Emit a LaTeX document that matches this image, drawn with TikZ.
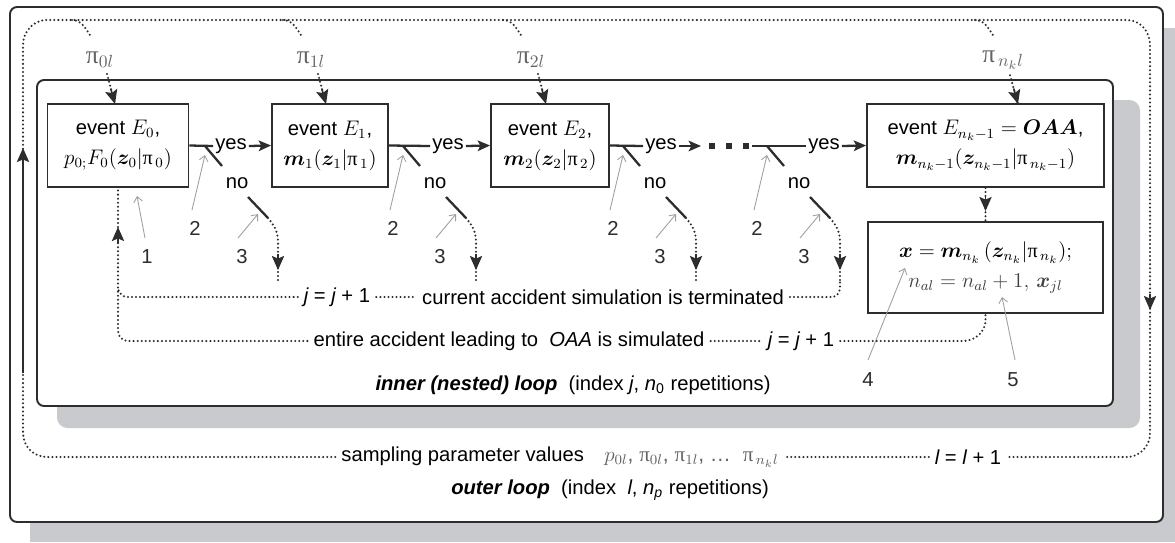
\documentclass[tikz,border=0pt]{standalone}
\usepackage{amsmath}
\usepackage{bm}
\usepackage[no-math]{fontspec}
\setmainfont{Liberation Sans}
\newfontfamily\pifont{Liberation Serif}
\newcommand{\uppi}{\mathord{\text{\pifont π}}}
\usetikzlibrary{arrows.meta}
\definecolor{LoopShade}{RGB}{200,202,205}
\definecolor{LoopLine}{RGB}{45,45,45}
\definecolor{PtrGray}{RGB}{160,160,160}
\definecolor{MathGray}{RGB}{100,100,100}

\begin{document}
\begin{tikzpicture}[x=0.02cm, y=-0.02cm,
    font=\fontsize{11.5}{14}\selectfont,
    frame/.style={draw=LoopLine, line width=1.1pt, fill=white, rounded corners=4pt},
    shade/.style={fill=LoopShade, rounded corners=6pt},
    evbox/.style={draw=LoopLine, line width=1.1pt, fill=white, align=center,
                  inner sep=2pt, font=\fontsize{11.5}{17}\selectfont},
    dotline/.style={draw=LoopLine, line width=1.3pt, line cap=round, dash pattern=on 0pt off 2.3pt},
    yesline/.style={draw=LoopLine, line width=1.3pt},
    arr/.style={-{Stealth[length=7pt,width=6pt,inset=1.5pt]}},
    tip/.style={draw=LoopLine, fill=LoopLine, line width=0.9pt,
                -{Stealth[length=8pt,width=7pt,inset=1.5pt]}},
    ptr/.style={draw=PtrGray, line width=0.5pt, -{Straight Barb[length=3pt,width=5pt]}},
    numlbl/.style={text=LoopLine},
    pilbl/.style={text=MathGray, font=\fontsize{14.5}{16}\selectfont}
  ]
  \useasboundingbox (0,0) rectangle (1175,542);
  \fill[white] (0,0) rectangle (1175,542);

  % outer and inner loop frames
  \fill[LoopShade] (30,28) rectangle (1175,542);
  \draw[frame] (10,7) rectangle (1163,522);
  \fill[shade] (57,100) rectangle (1140,428);
  \draw[frame] (37,80) rectangle (1113,406);

  % events
  \node[evbox, minimum width=2.82cm, minimum height=1.66cm] (e0) at (118,145.5)
       {event $E_0$,\\$p_{0;}F_0(\bm{z}_0|\uppi_{\,0})$};
  \node[evbox, minimum width=2.32cm, minimum height=1.66cm] (e1) at (330,145.5)
       {event $E_1$,\\$\bm{m}_1(\bm{z}_1|\uppi_{\,1})$};
  \node[evbox, minimum width=2.36cm, minimum height=1.66cm] (e2) at (550,145.5)
       {event $E_2$,\\$\bm{m}_2(\bm{z}_2|\uppi_{\,2})$};
  \node[evbox, minimum width=4.74cm, minimum height=1.66cm] (enk) at (985.5,145.5)
       {event $E_{n_k-1}=\bm{OAA}$,\\$\bm{m}_{n_k-1}(\bm{z}_{n_k-1}|\uppi_{\,n_k-1})$};
  \node[evbox, minimum width=4.70cm, minimum height=1.82cm] (xbox) at (985.5,267.5)
       {$\bm{x}=\bm{m}_{n_k}\,(\bm{z}_{n_k}|\uppi_{\,n_k});$\\
        {\color{black!75}$n_{al}=n_{al}+1,\,\bm{x}_{jl}$}};

  % yes branches
  \node[inner sep=1pt] (yes1) at (231,146) {yes};
  \node[inner sep=1pt] (yes2) at (448,146) {yes};
  \node[inner sep=1pt] (yes3) at (661,146) {yes};
  \node[inner sep=1pt] (yes4) at (824,146) {yes};
  \coordinate (dotsin) at (701,146);
  \coordinate (dotsout) at (752,146);
  \draw[yesline] (e0.east) -- (yes1.west);
  \draw[yesline, arr] (yes1.east) -- (e1.west);
  \draw[yesline] (e1.east) -- (yes2.west);
  \draw[yesline, arr] (yes2.east) -- (e2.west);
  \draw[yesline] (e2.east) -- (yes3.west);
  \draw[yesline, arr] (yes3.east) -- (dotsin);
  \foreach \d in {712,729,746}
    \fill[LoopLine] (\d-3,143) rectangle (\d+3,149);
  \draw[yesline] (dotsout) -- (yes4.west);
  \draw[yesline, arr] (yes4.east) -- (enk.west);

  % no branches
  \foreach \s in {205,403,623,767}{
    \draw[yesline] (\s,146) -- (\s+17,166);
    \node (no\s) at (\s+32,183) {no};
    \draw[yesline] (\s+43,197) -- (\s+63,218);
    \draw[dotline] (\s+63,218) to[out=-50,in=90] (\s+73,242) -- (\s+73,282);
    \draw[tip] (\s+73,254) -- (\s+73,270);
    \draw[ptr] (\s-13,210) -- (\s,155);
    \node[numlbl] (two\s) at (\s-10,228) {2};
    \draw[ptr] (\s+33,238) -- (\s+53,214);
    \node[numlbl] (three\s) at (\s+37,257) {3};
  }
  \draw[ptr] (145,238) -- (137,196);
  \node[numlbl] (one) at (147,257) {1};
  \draw[ptr] (868,360) -- (905,268);
  \node[numlbl] (four) at (868,380) {4};
  \draw[ptr] (1015,360) -- (1002,297);
  \node[numlbl] (five) at (1013,380) {5};

  \draw[dotline] (enk.south) -- (xbox.north);
  \draw[tip] (985.5,195) -- (985.5,211);

  % inner loop
  \node (jinc1) at (337,297) {{\itshape j} = {\itshape j} + 1};
  \node (term) at (603,297) {current accident simulation is terminated};
  \node (entire) at (509,341) {entire accident leading to\ \ {\itshape OAA} is simulated};
  \node (jinc2) at (801,341) {{\itshape j} = {\itshape j} + 1};
  \node (inner) at (573,385)
       {\textbf{\textit{inner (nested) loop}}\ \ (index {\itshape j}, {\itshape n}\textsubscript{0} repetitions)};
  \draw[dotline] (entire.west) -- (128,341) to[out=180,in=-90] (118,331) -- (e0.south);
  \draw[tip] (118,243) -- (118,227);
  \draw[dotline] (jinc1.west) -- (128,297) to[out=180,in=-90] (118,287);
  \draw[dotline] (jinc1.east) -- (term.west);
  \draw[dotline] (term.east) -- (832,297) to[out=0,in=-90] (840,287) -- (840,282);
  \draw[dotline] (entire.east) -- (jinc2.west);
  \draw[dotline] (jinc2.east) -- (963,341) to[out=0,in=-90] (985.5,320) -- (xbox.south);

  % outer loop
  \foreach \b/\sub/\t in {72/0l/e0, 283/1l/e1, 503/2l/e2, 975/{\,n_k l}/enk}{
    \draw[dotline] (\b,20) to[out=0,in=125] (\b+18,35);
    \node[pilbl] (pi\t) at (\b+28,60) {$\uppi_{\sub}$};
    \draw[dotline] ([xshift=0.14cm]pi\t.south) -- (\b+43,104);
    \draw[tip] (\b+38.7,88.5) -- (\b+43,104);
  }
  \node (sampling) at (560,457)
       {sampling parameter values\quad{\color{MathGray}\large$p_{0l}$, $\uppi_{0l}$, $\uppi_{1l}$, \dots\ \ $\uppi_{\,n_k l}$}};
  \node (linc) at (968,457) {{\itshape l} = {\itshape l} + 1};
  \node (outer) at (610,490)
       {\textbf{\textit{outer loop}}\ \ (index\ \ {\itshape l}, {\itshape n}\textsubscript{\itshape p} repetitions)};
  \draw[LoopLine, line width=0.9pt] (23,160) -- (23,373);
  \draw[dotline] (sampling.west) -- (47,457) to[out=180,in=-90] (23,433) -- (23,45)
        to[out=90,in=180] (47,20) -- (1127,20) to[out=0,in=90] (1150,45) -- (1150,433)
        to[out=-90,in=0] (1127,457) -- (linc.east);
  \draw[tip] (23,164) -- (23,148);
  \draw[tip] (1150,294) -- (1150,310);
  \draw[dotline] (linc.west) -- (sampling.east);
\end{tikzpicture}
\end{document}
